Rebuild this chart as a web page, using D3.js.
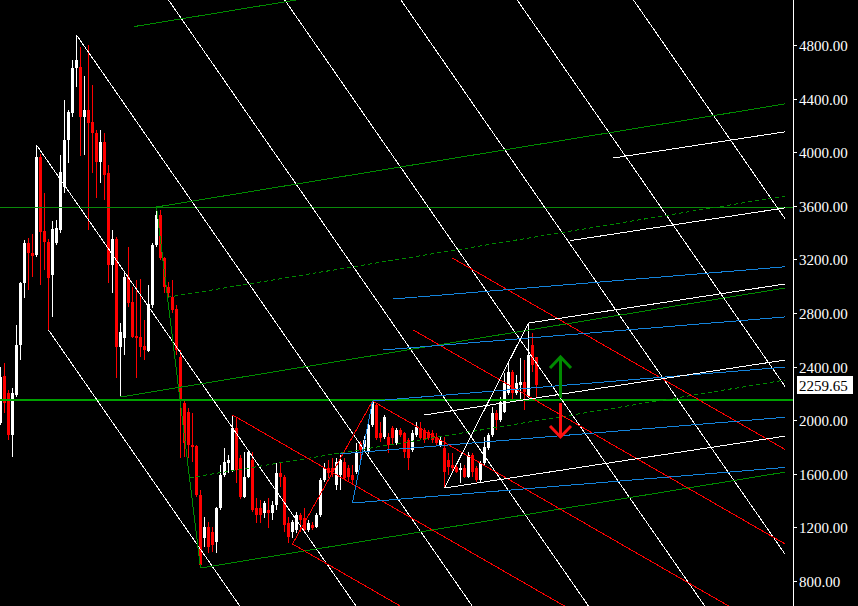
<!DOCTYPE html>
<html><head><meta charset="utf-8">
<script src="https://cdn.jsdelivr.net/npm/d3@7"></script>
<style>html,body{margin:0;padding:0;background:#000;overflow:hidden}</style>
</head><body>
<svg id="c" width="858" height="606" style="display:block;background:#000"></svg>
<script>
// ---- candle data (index = bar number) ----
const opens  = [1979,2330,2203,1890,2188,2561,3024,3322,3248,3233,3964,3412,3330,3084,3322,3419,3740,4091,4293,4628,4636,4263,4315,4225,4143,3927,4076,3845,3158,3352,2546,2613,3069,2882,2628,2621,2554,2516,2860,3308,3531,3210,2994,2919,2830,2472,2128,2061,1815,1808,1442,1121,1203,1166,1091,1345,1591,1681,1628,1942,1718,1427,1576,1703,1345,1345,1308,1330,1308,1367,1606,1576,1233,1166,1181,1293,1270,1181,1218,1203,1293,1554,1643,1643,1517,1591,1688,1643,1591,1613,1830,1800,1763,1964,2113,1905,1875,1875,1942,1830,1927,1905,1852,1778,1890,1942,1927,1912,1905,1875,1815,1793,1703,1666,1651,1628,1643,1576,1740,1643,1554,1681,1793,1890,2054,2002,2061,2203,2360,2203,2263,2285,2173,2561,2472];
const highs  = [2397,2427,2225,2240,2710,3031,3345,3360,3390,4054,3987,3696,3352,3487,3494,3979,4390,4315,4688,4875,4785,4569,4800,4501,4166,4166,4143,3904,3419,3367,2725,3099,3293,2994,3046,3054,2748,3009,3322,3591,3569,3218,3031,3046,2860,2524,2151,2091,2054,1815,1479,1278,1240,1203,1352,1666,1793,1740,2039,2017,1740,1763,1778,1763,1420,1405,1397,1420,1397,1681,1681,1591,1278,1255,1315,1308,1345,1255,1240,1308,1569,1681,1703,1718,1718,1740,1718,1666,1666,1830,1845,1882,1979,2151,2128,1987,2039,1905,1957,1942,1942,1912,1867,1927,1987,1987,1942,1927,1927,1905,1875,1875,1755,1755,1666,1681,1666,1763,1755,1658,1696,1875,1905,2098,2076,2173,2352,2427,2375,2337,2464,2449,2720,2651,2472];
const lows   = [1964,2054,1852,1725,2173,2449,2912,2972,3069,3218,3009,3121,2673,2770,3308,3397,3696,3919,4263,4487,3972,3979,3419,3845,3658,3770,3643,3024,2949,2315,2173,2487,2845,2613,2315,2472,2449,2509,2837,3293,3196,2949,2912,2800,2487,1718,1725,1718,1688,1427,897,1054,1009,1016,1009,1330,1576,1606,1613,1531,1412,1420,1569,1315,1233,1233,1270,1196,1255,1330,1502,1166,1084,1121,1158,1166,1166,1166,1181,1196,1278,1539,1569,1576,1479,1479,1554,1539,1531,1599,1703,1763,1748,1949,1852,1837,1860,1755,1815,1815,1875,1718,1628,1763,1875,1852,1830,1852,1830,1815,1800,1494,1591,1613,1606,1531,1569,1569,1576,1539,1531,1666,1778,1875,1927,1987,2054,2188,2136,2188,2151,2076,2166,2360,2166];
const closes = [2322,2128,1890,2203,2561,3024,3322,3248,3225,3964,3404,3330,3061,3427,3434,3852,4091,4300,4628,4688,4263,4315,4218,4143,3927,4076,3830,3158,3352,2546,2658,3069,2875,2621,2613,2546,2524,2867,3308,3531,3210,2994,2949,2822,2524,2151,1830,1815,1800,1442,920,1203,1054,1069,1345,1591,1688,1703,1942,1628,1427,1576,1763,1330,1293,1293,1382,1308,1367,1606,1576,1218,1128,1240,1293,1255,1181,1233,1196,1293,1554,1643,1606,1613,1688,1703,1569,1576,1554,1755,1778,1852,1964,2136,1867,1867,2024,1815,1867,1927,1890,1763,1718,1905,1949,1867,1852,1867,1852,1830,1852,1613,1651,1643,1613,1643,1576,1740,1613,1554,1681,1800,1890,2054,2002,2136,2278,2360,2203,2278,2285,2210,2487,2412,2259.65];

// ---- axis ----
const yTicks = [800,1200,1600,2000,2400,2800,3200,3600,4000,4400,4800];
const lastPrice = 2259.65;

// ---- horizontal levels ----
const hLevels = [3591, 2151];

// ---- pitchfork pivots [bar index, price] : A, B, C ----
const forkDiag  = [[9,4054],[19,4875],[12,2673]];
const forkGreen = [[30,2173],[39,3591],[50,897]];
const forkRed   = [[58,2039],[93,2143],[73,1076]];
const forkBlue  = [[85,1749],[93,2143],[88,1382]];
const forkWhite = [[106,2039],[132,2725],[111,1494]];

// ---- arrows [bar index, from price, to price] ----
const arrowUp   = [140, 2166, 2472];
const arrowDown = [140, 2128, 1875];

const svg = d3.select('#c');
const x = d3.scaleLinear().domain([0,1]).range([0.5,4.5]);
const y = d3.scaleLinear().domain([800,4800]).range([581,45]);

svg.append('rect').attr('width',858).attr('height',606).attr('fill','#000');

const defs = svg.append('defs');
defs.append('clipPath').attr('id','plot').append('rect').attr('x',0).attr('y',0).attr('width',785).attr('height',606);
defs.append('clipPath').attr('id','plot2').append('rect').attr('x',0).attr('y',0).attr('width',793).attr('height',606);

// candles
const cg = svg.append('g').attr('clip-path','url(#plot)');
const idx = d3.range(opens.length);
const col = i => closes[i] >= opens[i] ? '#ffffff' : '#ff0000';
cg.selectAll('line.w').data(idx).join('line')
  .attr('x1',i=>x(i)).attr('x2',i=>x(i))
  .attr('y1',i=>y(highs[i])).attr('y2',i=>y(lows[i]))
  .attr('stroke',col).attr('stroke-width',1).attr('shape-rendering','crispEdges');
cg.selectAll('rect.b').data(idx).join('rect')
  .attr('x',i=>x(i)-1.5).attr('width',3)
  .attr('y',i=>y(Math.max(opens[i],closes[i])))
  .attr('height',i=>Math.max(1,Math.abs(y(opens[i])-y(closes[i]))))
  .attr('fill',col).attr('shape-rendering','crispEdges');

// horizontal levels
const hg = svg.append('g').attr('clip-path','url(#plot2)');
hg.append('line').attr('x1',0).attr('x2',793).attr('y1',Math.round(y(hLevels[0]))+0.5).attr('y2',Math.round(y(hLevels[0]))+0.5)
  .attr('stroke','#0a8a0a').attr('stroke-width',1);
hg.append('line').attr('x1',0).attr('x2',793).attr('y1',Math.round(y(hLevels[1]))).attr('y2',Math.round(y(hLevels[1])))
  .attr('stroke','#00a000').attr('stroke-width',2);

// pitchforks
const lg = svg.append('g').attr('clip-path','url(#plot)');
function P(pt){ return [x(pt[0]), y(pt[1])]; }
function ray(s,d){ const t=(900-s[0])/d[0]; return [s,[s[0]+d[0]*t, s[1]+d[1]*t]]; }
function seg(a,b,color,dash){
  lg.append('line').attr('x1',a[0]).attr('y1',a[1]).attr('x2',b[0]).attr('y2',b[1])
    .attr('stroke',color).attr('stroke-width',1).attr('shape-rendering','crispEdges')
    .attr('stroke-dasharray',dash||null);
}
function fork(piv,color,nExtra,opt){
  const A=P(piv[0]),B=P(piv[1]),C=P(piv[2]);
  const M=[(B[0]+C[0])/2,(B[1]+C[1])/2];
  const d=[M[0]-A[0],M[1]-A[1]];
  const h=[(B[0]-C[0])/2,(B[1]-C[1])/2];
  [A,B,C].forEach(s=>{ const r=ray(s,d); seg(r[0],r[1],color); });
  for(let k=1;k<=nExtra;k++){ const r=ray([B[0]+k*h[0],B[1]+k*h[1]],d); seg(r[0],r[1],color); }
  if(opt.handle) seg(B,C,color);
  if(opt.quarter){
    [0.25,0.75].forEach(q=>{ const s=[B[0]+q*(C[0]-B[0]),B[1]+q*(C[1]-B[1])]; const r=ray(s,d); seg(r[0],r[1],color,'4,3'); });
  }
}
fork(forkDiag,'#ffffff',5,{handle:false});
fork(forkGreen,'#008a00',1,{handle:true,quarter:true});
fork(forkRed,'#ff0000',2,{handle:true});
fork(forkBlue,'#1484dc',2,{handle:true});
fork(forkWhite,'#ffffff',2,{handle:true});

// arrows
function arrow(a,color){
  const xa=x(a[0]), y0=y(a[1]), y1=y(a[2]);
  const dir = y1<y0 ? 1 : -1;
  const g=svg.append('g').attr('stroke',color).attr('stroke-width',3).attr('fill','none').attr('stroke-linecap','butt');
  g.append('line').attr('x1',xa).attr('x2',xa).attr('y1',y0).attr('y2',y1+dir*1);
  g.append('polyline').attr('points',[[xa-10.5,y1+dir*11],[xa,y1],[xa+10.5,y1+dir*11]].map(p=>p.join(',')).join(' '));
}
arrow(arrowUp,'#008a00');
arrow(arrowDown,'#ff1010');

// right axis
const ag = svg.append('g');
ag.append('line').attr('x1',793.5).attr('x2',793.5).attr('y1',0).attr('y2',606).attr('stroke','#fff').attr('stroke-width',1);
yTicks.forEach(v=>{
  const yy=Math.round(y(v))+0.5;
  ag.append('line').attr('x1',793).attr('x2',797).attr('y1',yy).attr('y2',yy).attr('stroke','#fff');
  ag.append('text').attr('x',799).attr('y',yy).attr('dy','0.35em')
    .attr('fill','#fff').attr('font-family','"Liberation Serif", serif').attr('font-size',15).text(d3.format('.2f')(v));
});
const ly = y(lastPrice);
ag.append('rect').attr('x',797).attr('y',Math.round(ly)-9).attr('width',56).attr('height',18).attr('fill','#fff');
ag.append('text').attr('x',799).attr('y',ly).attr('dy','0.35em').attr('fill','#000')
  .attr('font-family','"Liberation Serif", serif').attr('font-size',15).text(d3.format('.2f')(lastPrice));
</script>
</body></html>
